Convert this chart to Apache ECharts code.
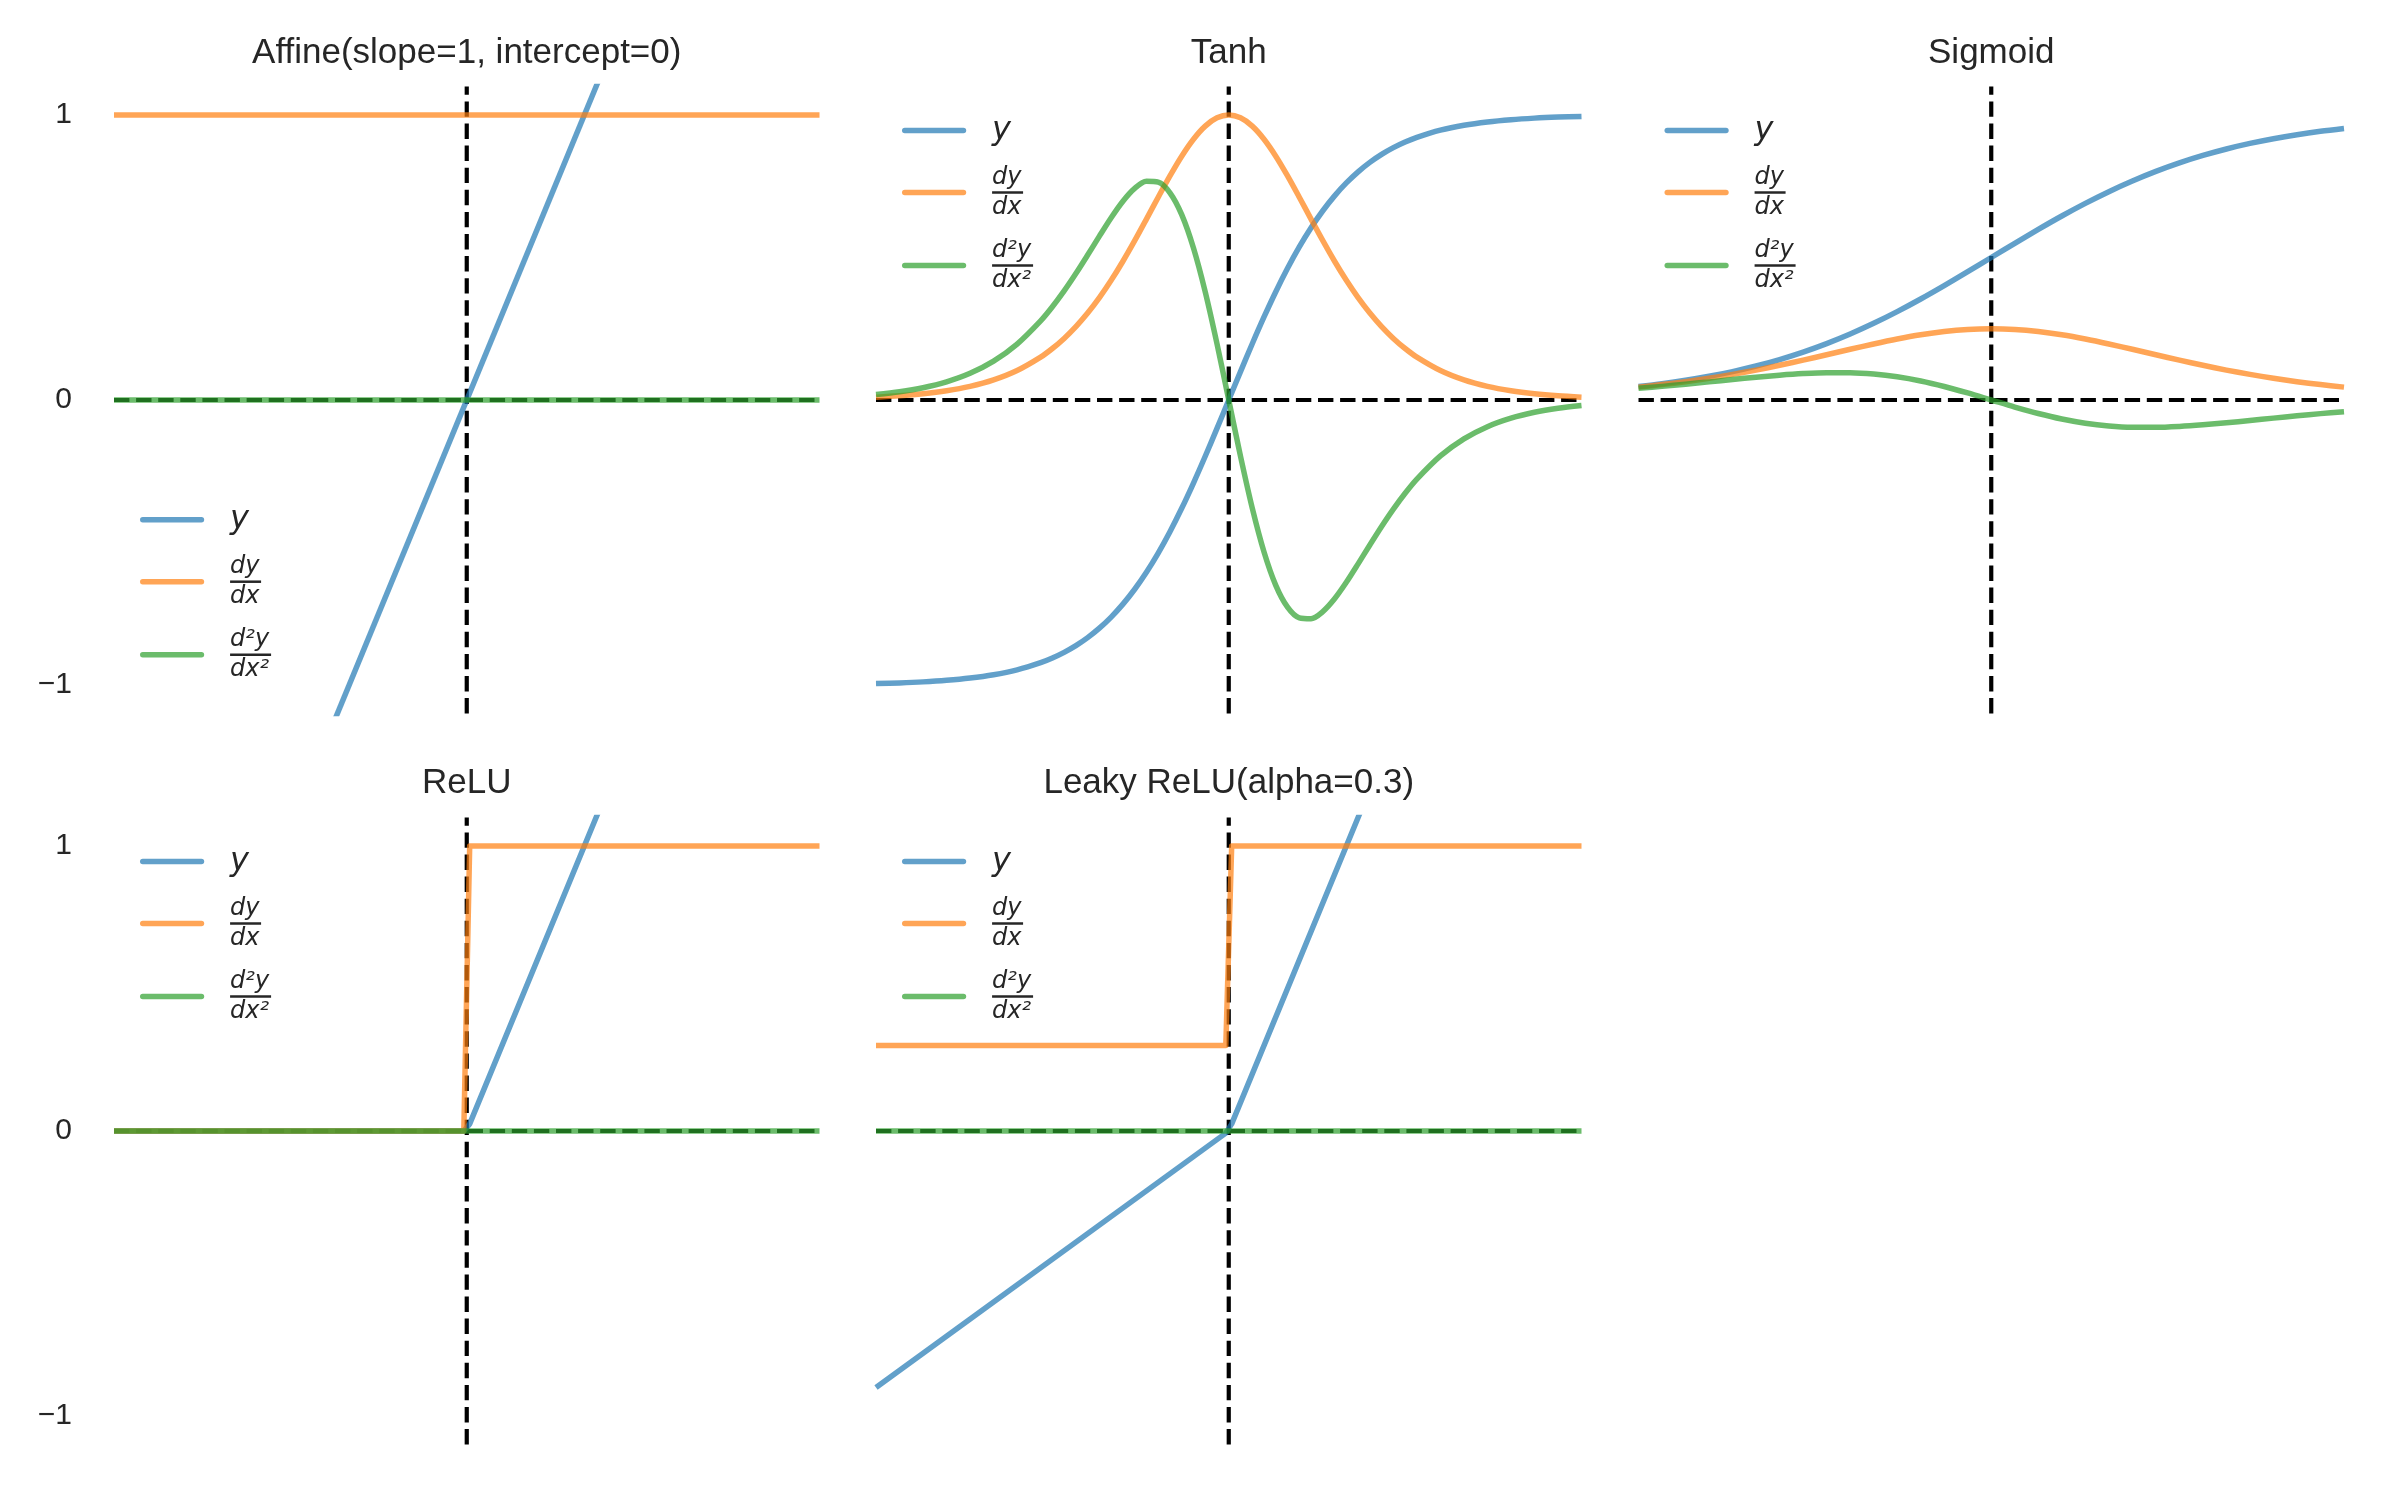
<!DOCTYPE html>
<html><head><meta charset="utf-8">
<script src="https://cdn.jsdelivr.net/npm/echarts@6/dist/echarts.min.js"></script>
<style>html,body{margin:0;padding:0;background:#fff}#c{width:2400px;height:1500px}</style>
</head><body><div id="c"></div>
<script>
// ---------------- data ----------------
const panelTitles = ['Affine(slope=1, intercept=0)', 'Tanh', 'Sigmoid', 'ReLU', 'Leaky ReLU(alpha=0.3)'];
const seriesNames = ['y', 'dy', 'd2y'];
const yTickValues = [-1, 0, 1];
const xRange = [-3, 3];
const yRange = [-1.1, 1.1];

const affineX = [-3, 3];
const affineY = [-3, 3];
const affineDy = [1, 1];
const affineD2 = [0, 0];

const tanhX = [-3, -2.8, -2.6, -2.4, -2.2, -2, -1.8, -1.6, -1.5, -1.4, -1.3, -1.2, -1.1, -1, -0.9, -0.8, -0.7, -0.6, -0.5, -0.4, -0.3, -0.2, -0.1, 0,
  0.1, 0.2, 0.3, 0.4, 0.5, 0.6, 0.7, 0.8, 0.9, 1, 1.1, 1.2, 1.3, 1.4, 1.5, 1.6, 1.8, 2, 2.2, 2.4, 2.6, 2.8, 3];
const tanhY = [-0.99505, -0.99263, -0.98903, -0.98367, -0.97574, -0.96403, -0.94681, -0.92167, -0.90515, -0.88535, -0.86172, -0.83365, -0.80050, -0.76159, -0.71630, -0.66404, -0.60437, -0.53705, -0.46212, -0.37995, -0.29131, -0.19738, -0.09967, 0,
  0.09967, 0.19738, 0.29131, 0.37995, 0.46212, 0.53705, 0.60437, 0.66404, 0.71630, 0.76159, 0.80050, 0.83365, 0.86172, 0.88535, 0.90515, 0.92167, 0.94681, 0.96403, 0.97574, 0.98367, 0.98903, 0.99263, 0.99505];
const tanhDy = [0.00988, 0.01469, 0.02182, 0.03239, 0.04793, 0.07065, 0.10355, 0.15052, 0.18070, 0.21615, 0.25744, 0.30503, 0.35920, 0.41997, 0.48691, 0.55905, 0.63474, 0.71158, 0.78645, 0.85564, 0.91514, 0.96104, 0.99007, 1,
  0.99007, 0.96104, 0.91514, 0.85564, 0.78645, 0.71158, 0.63474, 0.55905, 0.48691, 0.41997, 0.35920, 0.30503, 0.25744, 0.21615, 0.18070, 0.15052, 0.10355, 0.07065, 0.04793, 0.03239, 0.02182, 0.01469, 0.00988];
const tanhD2 = [0.01966, 0.02916, 0.04316, 0.06372, 0.09353, 0.13622, 0.19609, 0.27746, 0.32712, 0.38274, 0.44368, 0.50858, 0.57508, 0.63969, 0.69755, 0.74247, 0.76723, 0.76431, 0.72687, 0.65020, 0.53318, 0.37938, 0.19736, 0,
  -0.19736, -0.37938, -0.53318, -0.65020, -0.72687, -0.76431, -0.76723, -0.74247, -0.69755, -0.63969, -0.57508, -0.50858, -0.44368, -0.38274, -0.32712, -0.27746, -0.19609, -0.13622, -0.09353, -0.06372, -0.04316, -0.02916, -0.01966];

const sigX = [-3, -2.8, -2.6, -2.4, -2.2, -2, -1.8, -1.6, -1.4, -1.2, -1, -0.8, -0.6, -0.4, -0.2, 0,
  0.2, 0.4, 0.6, 0.8, 1, 1.2, 1.4, 1.6, 1.8, 2, 2.2, 2.4, 2.6, 2.8, 3];
const sigY = [0.04743, 0.05733, 0.06914, 0.08317, 0.09975, 0.11920, 0.14185, 0.16798, 0.19782, 0.23148, 0.26894, 0.31003, 0.35434, 0.40131, 0.45017, 0.5,
  0.54983, 0.59869, 0.64566, 0.68997, 0.73106, 0.76852, 0.80218, 0.83202, 0.85815, 0.88080, 0.90025, 0.91683, 0.93086, 0.94267, 0.95257];
const sigDy = [0.04518, 0.05404, 0.06436, 0.07625, 0.08980, 0.10499, 0.12173, 0.13976, 0.15869, 0.17790, 0.19661, 0.21391, 0.22878, 0.24026, 0.24752, 0.25,
  0.24752, 0.24026, 0.22878, 0.21391, 0.19661, 0.17790, 0.15869, 0.13976, 0.12173, 0.10499, 0.08980, 0.07625, 0.06436, 0.05404, 0.04518];
const sigD2 = [0.04089, 0.04784, 0.05546, 0.06357, 0.07189, 0.07996, 0.08719, 0.09281, 0.09591, 0.09554, 0.09086, 0.08127, 0.06665, 0.04742, 0.02467, 0,
  -0.02467, -0.04742, -0.06665, -0.08127, -0.09086, -0.09554, -0.09591, -0.09281, -0.08719, -0.07996, -0.07189, -0.06357, -0.05546, -0.04784, -0.04089];

const reluX = [-3, -0.025, 0.025, 3];
const reluY = [0, 0, 0.025, 3];
const reluDy = [0, 0, 1, 1];
const reluD2 = [0, 0, 0, 0];

const leakyX = [-3, -0.025, 0.025, 3];
const leakyY = [-0.9, -0.0075, 0.025, 3];
const leakyDy = [0.3, 0.3, 1, 1];
const leakyD2 = [0, 0, 0, 0];

// ---------------- build ----------------
const panels = [
  { x: affineX, vals: [affineY, affineDy, affineD2], smooth: false, legendBottom: true },
  { x: tanhX, vals: [tanhY, tanhDy, tanhD2], smooth: 0.3 },
  { x: sigX, vals: [sigY, sigDy, sigD2], smooth: 0.3 },
  { x: reluX, vals: [reluY, reluDy, reluD2], smooth: false },
  { x: leakyX, vals: [leakyY, leakyDy, leakyD2], smooth: false }
];
const colors = ['rgba(31,119,180,0.7)', 'rgba(255,127,14,0.7)', 'rgba(44,160,44,0.7)'];
const colLeft = [114, 876, 1638.5], rowTop = [86.5, 817.5], W = 705.5, H = 627;
const TEXT = '#262626';
const zip = (xs, ys) => xs.map((v, i) => [v, ys[i]]);

const grids = [], xAxes = [], yAxes = [], series = [], legends = [], graphics = [];
const dashStyle = { color: '#000', width: 4.2, type: [15.4, 6.7] };
const capsule = 'path://M3,0H67A3,3 0 0 1 67,6H3A3,3 0 0 1 3,0Z';

panels.forEach((p, i) => {
  const c = i % 3, r = Math.floor(i / 3);
  grids.push({ left: colLeft[c], top: rowTop[r], width: W, height: H, containLabel: false });
  xAxes.push({ type: 'value', gridIndex: i, min: xRange[0], max: xRange[1], show: false });
  yAxes.push({
    type: 'value', gridIndex: i, min: yRange[0], max: yRange[1],
    axisLine: { show: false }, axisTick: { show: false }, splitLine: { show: false },
    axisLabel: {
      show: c === 0, customValues: yTickValues, margin: 42, fontSize: 30,
      color: TEXT, fontFamily: 'Liberation Sans',
      formatter: v => v < 0 ? '\u2212' + Math.abs(v) : String(v)
    }
  });
  // reference dashed lines (drawn first, underneath)
  series.push({
    type: 'line', name: 'hline', xAxisIndex: i, yAxisIndex: i, silent: true,
    data: [[xRange[0], 0], [xRange[1], 0]], symbol: 'none', lineStyle: dashStyle, animation: false
  });
  series.push({
    type: 'line', name: 'vline', xAxisIndex: i, yAxisIndex: i, silent: true,
    data: [[0, yRange[0]], [0, yRange[1]]], symbol: 'none', lineStyle: dashStyle, animation: false
  });
  p.vals.forEach((vals, k) => {
    series.push({
      type: 'line', name: seriesNames[k], xAxisIndex: i, yAxisIndex: i, silent: true,
      data: zip(p.x, vals), symbol: 'none', showSymbol: false, smooth: p.smooth,
      color: colors[k], lineStyle: { color: colors[k], width: 5.5, join: 'round' },
      emphasis: { disabled: true }, animation: false
    });
  });
  const legendTop = p.legendBottom ? 503.7 : rowTop[r] + 28;
  legends.push({
    data: seriesNames, orient: 'vertical', left: colLeft[c] + 26, top: legendTop,
    itemWidth: 70, itemHeight: 5.5, itemGap: 19, icon: capsule, padding: 0, selectedMode: false,
    formatter: name => ({ y: '{yl|y}', dy: '{num|dy}\n{bar1| }\n{num|dx}', d2y: '{num|d\u00b2y}\n{bar2| }\n{num|dx\u00b2}' })[name],
    textStyle: {
      padding: [0, 0, 0, 18],
      rich: {
        yl: { fontFamily: 'DejaVu Sans', fontStyle: 'italic', fontSize: 32, lineHeight: 38, color: TEXT },
        num: { fontFamily: 'DejaVu Sans', fontStyle: 'italic', fontSize: 24, lineHeight: 24, color: TEXT },
        bar1: { width: 31, height: 2.5, lineHeight: 6, fontSize: 2, backgroundColor: TEXT },
        bar2: { width: 41, height: 2.5, lineHeight: 6, fontSize: 2, backgroundColor: TEXT }
      }
    }
  });
  graphics.push({
    type: 'text', x: colLeft[c] + W / 2, y: r === 0 ? 53 : 783, silent: true,
    style: { text: panelTitles[i], fontSize: 35, fontFamily: 'Liberation Sans', fill: TEXT, align: 'center', verticalAlign: 'middle' }
  });
});

const chart = echarts.init(document.getElementById('c'), null, { renderer: 'canvas' });
chart.setOption({
  backgroundColor: '#fff', animation: false,
  grid: grids, xAxis: xAxes, yAxis: yAxes, series: series, legend: legends, graphic: graphics
});
</script></body></html>
